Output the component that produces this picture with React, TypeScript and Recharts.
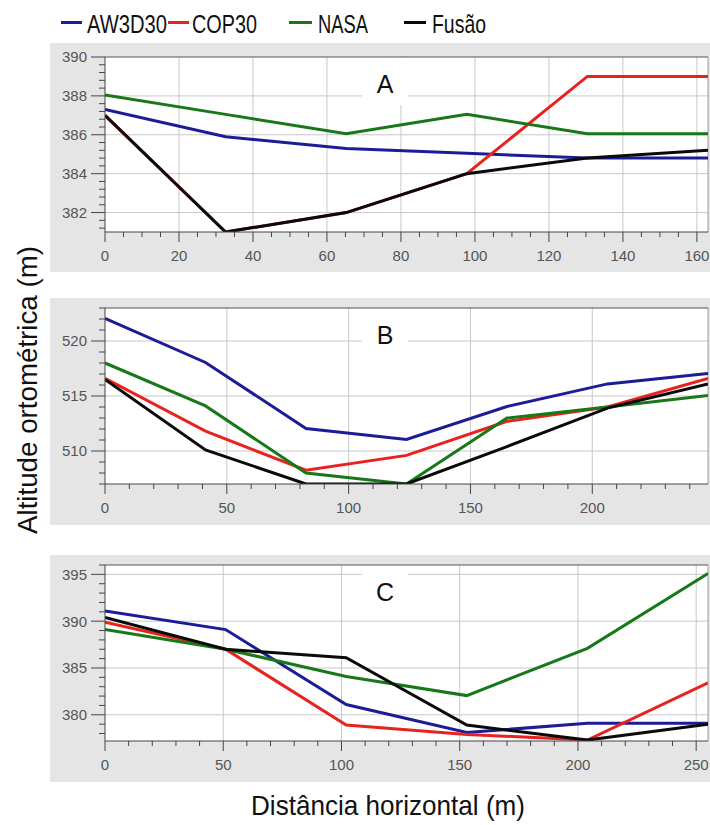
import React from 'react';
import { LineChart, Line, XAxis, YAxis, ReferenceLine, CartesianGrid } from 'recharts';

const seriesNames = ['AW3D30', 'COP30', 'NASA', 'Fusão'];
const seriesKeys = ['aw3d', 'cop', 'nasa', 'fusao'];
const seriesColors = ['#1c1c96', '#e8231f', '#187818', '#0a0a0a'];

// Perfil A
const distA = [0, 32.6, 65.2, 97.8, 130.4, 163];
const aw3dA = [387.3, 385.9, 385.3, 385.05, 384.8, 384.8];
const copA = [387, 381, 382, 384, 389, 389];
const nasaA = [388.05, 387.05, 386.05, 387.05, 386.05, 386.05];
const fusaoA = [387, 381, 382, 384, 384.8, 385.2];
const xTicksA = [0, 20, 40, 60, 80, 100, 120, 140, 160];
const yTicksA = [382, 384, 386, 388, 390];

// Perfil B
const distB = [0, 41.25, 82.5, 123.75, 165, 206.25, 247.5];
const aw3dB = [522.05, 518.05, 512.05, 511.05, 514.05, 516.1, 517.05];
const copB = [516.6, 511.8, 508.25, 509.6, 512.7, 514.0, 516.6];
const nasaB = [518.0, 514.1, 508.0, 507.0, 513.0, 514.0, 515.05];
const fusaoB = [516.5, 510.1, 507.0, 507.0, 510.4, 513.9, 516.1];
const xTicksB = [0, 50, 100, 150, 200];
const yTicksB = [510, 515, 520];

// Perfil C
const distC = [0, 51, 102, 153, 204, 255];
const aw3dC = [391.1, 389.1, 381.1, 378.1, 379.1, 379.1];
const copC = [389.9, 387.0, 378.9, 377.9, 377.3, 383.4];
const nasaC = [389.1, 387.0, 384.1, 382.05, 387.1, 395.1];
const fusaoC = [390.4, 387.0, 386.1, 378.9, 377.3, 379.0];
const xTicksC = [0, 50, 100, 150, 200, 250];
const yTicksC = [380, 385, 390, 395];

const FONT = "'Liberation Sans', Arial, sans-serif";

// minor tick positions (axis decoration only)
const steps = (from: number, to: number, step: number) => {
  const out: number[] = [];
  for (let v = from; v <= to + 1e-9; v += step) out.push(Math.round(v * 100) / 100);
  return out;
};

const rows = (dist: number[], a: number[], c: number[], n: number[], f: number[]) =>
  dist.map((d, i) => ({ x: d, aw3d: a[i], cop: c[i], nasa: n[i], fusao: f[i] }));

const XTick = (props: any) => {
  const { x, y, payload, majors } = props;
  const major = majors.includes(payload.value);
  return (
    <g>
      <line x1={x} x2={x} y1={y} y2={y + (major ? 10 : 5)} stroke="#444" strokeWidth={1} />
      {major && (
        <text x={x} y={y + 18} dy="0.71em" textAnchor="middle" fontSize={15} fill="#555" fontFamily={FONT}>
          {payload.value}
        </text>
      )}
    </g>
  );
};

const YTick = (props: any) => {
  const { x, y, payload, majors } = props;
  const major = majors.includes(payload.value);
  return (
    <g>
      <line x1={x} x2={x - (major ? 14 : 6)} y1={y} y2={y} stroke="#444" strokeWidth={1} />
      {major && (
        <text x={x - 18} y={y} dy="0.36em" textAnchor="end" fontSize={15} fill="#555" fontFamily={FONT}>
          {payload.value}
        </text>
      )}
    </g>
  );
};

type PanelProps = {
  top: number;
  height: number;
  marginTop: number;
  axisHeight: number;
  data: any[];
  xDomain: [number, number];
  yDomain: [number, number];
  xTicks: number[];
  xMinor: number[];
  yTicks: number[];
  yMinor: number[];
};

function Panel(p: PanelProps) {
  const xAll = Array.from(new Set([...p.xMinor, ...p.xTicks])).sort((a, b) => a - b);
  const yAll = Array.from(new Set([...p.yMinor, ...p.yTicks])).sort((a, b) => a - b);
  return (
    <div style={{ position: 'absolute', left: 50, top: p.top, width: 660, height: p.height, background: '#e5e5e5' }}>
      <LineChart width={660} height={p.height} data={p.data} margin={{ top: p.marginTop, right: 2, bottom: 0, left: 0 }}>
        <CartesianGrid horizontal={false} vertical={false} fill="#fff" />
        {p.xTicks.filter((v) => v > p.xDomain[0]).map((v) => (
          <ReferenceLine key={'gx' + v} x={v} stroke="#c8c8c8" strokeWidth={1} />
        ))}
        {p.yTicks.filter((v) => v < p.yDomain[1]).map((v) => (
          <ReferenceLine key={'gy' + v} y={v} stroke="#c8c8c8" strokeWidth={1} />
        ))}
        <ReferenceLine x={p.xDomain[1]} stroke="#a0a0a0" strokeWidth={1} />
        <ReferenceLine y={p.yDomain[1]} stroke="#555" strokeWidth={1} />
        <XAxis
          dataKey="x"
          type="number"
          domain={p.xDomain}
          ticks={xAll}
          interval={0}
          allowDataOverflow
          height={p.axisHeight}
          tickSize={0}
          tickMargin={0}
          tickLine={false}
          axisLine={{ stroke: '#444' }}
          tick={(t: any) => <XTick {...t} majors={p.xTicks} />}
        />
        <YAxis
          type="number"
          domain={p.yDomain}
          ticks={yAll}
          interval={0}
          allowDataOverflow
          width={55}
          tickSize={0}
          tickMargin={0}
          tickLine={false}
          axisLine={{ stroke: '#444' }}
          tick={(t: any) => <YTick {...t} majors={p.yTicks} />}
        />
        {seriesKeys.map((k, i) => (
          <Line
            key={k}
            dataKey={k}
            type="linear"
            stroke={seriesColors[i]}
            strokeWidth={3}
            dot={false}
            isAnimationActive={false}
          />
        ))}
      </LineChart>
    </div>
  );
}

const panelLabels = [
  { text: 'A', top: 58 },
  { text: 'B', top: 309 },
  { text: 'C', top: 566 },
];

const legendPos = [
  { x1: 61, x2: 82, tx: 87, w: 80 },
  { x1: 168, x2: 189, tx: 192, w: 65 },
  { x1: 289, x2: 312, tx: 318, w: 50 },
  { x1: 404, x2: 426, tx: 432, w: 54 },
];

export default function App() {
  return (
    <div style={{ position: 'absolute', left: 0, top: 0, width: 710, height: 825, background: '#fff', overflow: 'hidden' }}>
      <Panel
        top={43}
        height={229}
        marginTop={14}
        axisHeight={40}
        data={rows(distA, aw3dA, copA, nasaA, fusaoA)}
        xDomain={[0, 163]}
        yDomain={[381, 390]}
        xTicks={xTicksA}
        xMinor={steps(0, 160, 5)}
        yTicks={yTicksA}
        yMinor={steps(381.2, 390, 0.4)}
      />
      <Panel
        top={298}
        height={227}
        marginTop={10}
        axisHeight={41}
        data={rows(distB, aw3dB, copB, nasaB, fusaoB)}
        xDomain={[0, 247.5]}
        yDomain={[507, 523]}
        xTicks={xTicksB}
        xMinor={steps(0, 240, 10)}
        yTicks={yTicksB}
        yMinor={steps(507, 523, 1)}
      />
      <Panel
        top={555}
        height={227}
        marginTop={10}
        axisHeight={41}
        data={rows(distC, aw3dC, copC, nasaC, fusaoC)}
        xDomain={[0, 255]}
        yDomain={[377.2, 396]}
        xTicks={xTicksC}
        xMinor={steps(0, 250, 10)}
        yTicks={yTicksC}
        yMinor={steps(378, 396, 1)}
      />
      <svg width={710} height={825} style={{ position: 'absolute', left: 0, top: 0, pointerEvents: 'none' }}>
        {panelLabels.map((l) => (
          <g key={l.text}>
            <rect x={362} y={l.top} width={46} height={47} fill="#fff" />
            <text x={385} y={l.top + 35} textAnchor="middle" fontSize={25} fill="#111" fontFamily={FONT}>
              {l.text}
            </text>
          </g>
        ))}
        {seriesNames.map((name, i) => (
          <g key={name}>
            <line x1={legendPos[i].x1} x2={legendPos[i].x2} y1={22.5} y2={22.5} stroke={seriesColors[i]} strokeWidth={3} />
            <text
              x={legendPos[i].tx}
              y={33}
              fontSize={25}
              fill="#111"
              fontFamily={FONT}
              textLength={legendPos[i].w}
              lengthAdjust="spacingAndGlyphs"
            >
              {name}
            </text>
          </g>
        ))}
        <text
          x={37}
          y={390}
          transform="rotate(-90, 37, 390)"
          textAnchor="middle"
          fontSize={28}
          fill="#111"
          fontFamily={FONT}
          textLength={288}
          lengthAdjust="spacingAndGlyphs"
        >
          Altitude ortométrica (m)
        </text>
        <text
          x={388}
          y={815}
          textAnchor="middle"
          fontSize={28}
          fill="#111"
          fontFamily={FONT}
          textLength={274}
          lengthAdjust="spacingAndGlyphs"
        >
          Distância horizontal (m)
        </text>
      </svg>
    </div>
  );
}
